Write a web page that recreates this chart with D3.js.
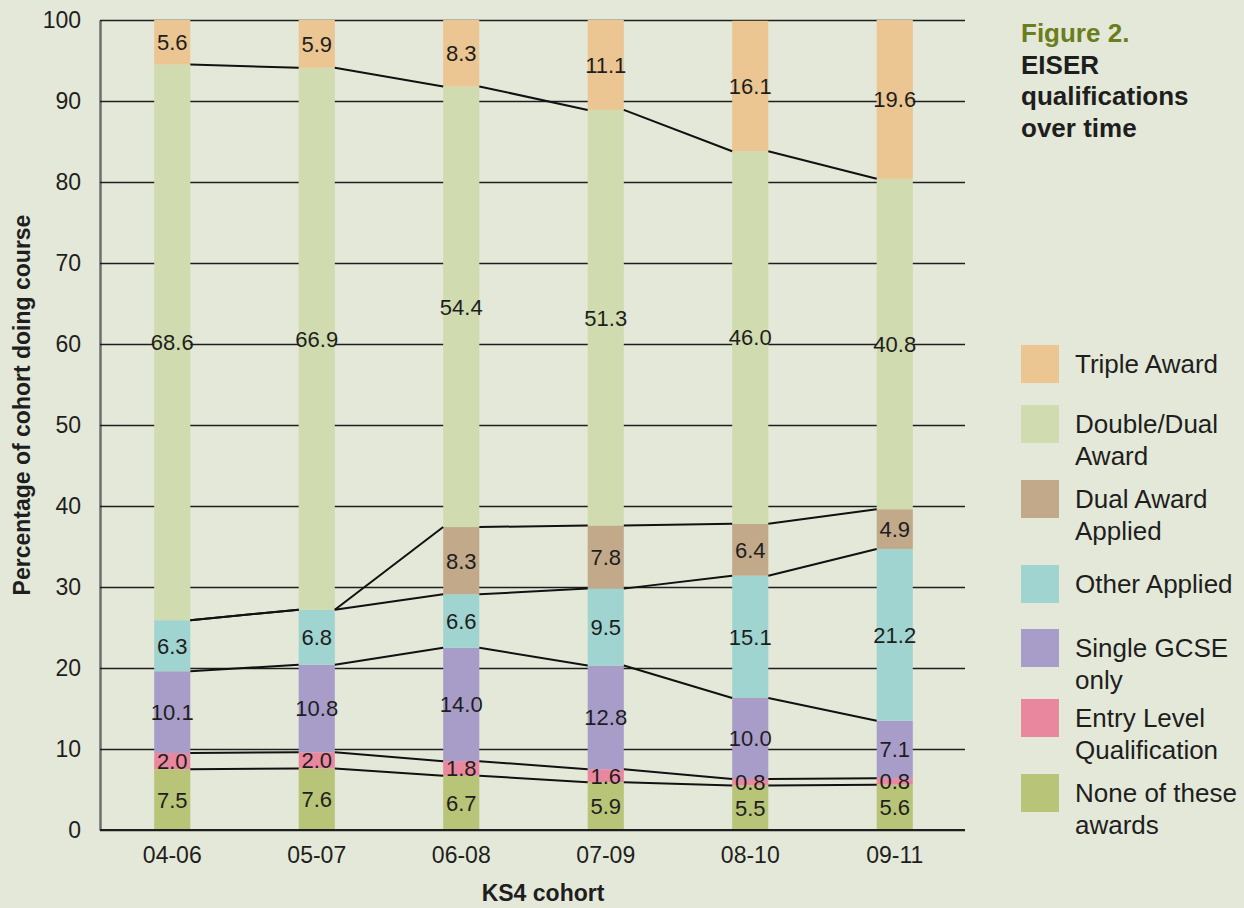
<!DOCTYPE html>
<html>
<head>
    <title>EISER qualifications over time</title>
    <script src="https://d3js.org/d3.v7.min.js"></script>
    <style>
        body { margin: 0; background: #e4e8d8; }
        text { font-family: "Liberation Sans", Arial, sans-serif; fill: #1e1e1e; }
        .grid line { stroke: #1e1e1e; stroke-width: 1.5; }
        .bar-label { font-size: 22px; text-anchor: middle; }
        .legend-label { font-size: 26px; }
        .title { font-size: 26px; font-weight: bold; }
        .axis-title { font-size: 23px; font-weight: bold; }
    </style>
</head>
<body>
<script>
    var w = 1244;
    var h = 908;

    var cohorts = ["04-06", "05-07", "06-08", "07-09", "08-10", "09-11"];

    // series, from bottom of the stack to top
    var seriesNames = ["None of these awards", "Entry Level Qualification", "Single GCSE only",
        "Other Applied", "Dual Award Applied", "Double/Dual Award", "Triple Award"];
    var noneValues = [7.5, 7.6, 6.7, 5.9, 5.5, 5.6];
    var entryValues = [2.0, 2.0, 1.8, 1.6, 0.8, 0.8];
    var singleValues = [10.1, 10.8, 14.0, 12.8, 10.0, 7.1];
    var otherAppliedValues = [6.3, 6.8, 6.6, 9.5, 15.1, 21.2];
    var dualAppliedValues = [0, 0, 8.3, 7.8, 6.4, 4.9];
    var doubleValues = [68.6, 66.9, 54.4, 51.3, 46.0, 40.8];
    var tripleValues = [5.6, 5.9, 8.3, 11.1, 16.1, 19.6];

    var yTicks = [0, 10, 20, 30, 40, 50, 60, 70, 80, 90, 100];

    var seriesValues = [noneValues, entryValues, singleValues, otherAppliedValues,
        dualAppliedValues, doubleValues, tripleValues];
    var colors = ["#b8c477", "#e9879f", "#a89dc9", "#a0d4d0", "#c2a98a", "#d0dbaf", "#ebc592"];

    // legend, top to bottom
    var legendItems = [
        { name: "Triple Award", lines: ["Triple Award"], color: colors[6] },
        { name: "Double/Dual Award", lines: ["Double/Dual", "Award"], color: colors[5] },
        { name: "Dual Award Applied", lines: ["Dual Award", "Applied"], color: colors[4] },
        { name: "Other Applied", lines: ["Other Applied"], color: colors[3] },
        { name: "Single GCSE only", lines: ["Single GCSE", "only"], color: colors[2] },
        { name: "Entry Level Qualification", lines: ["Entry Level", "Qualification"], color: colors[1] },
        { name: "None of these awards", lines: ["None of these", "awards"], color: colors[0] }
    ];
    var legendTops = [345, 405, 480, 565, 629, 699, 774];

    var table = cohorts.map(function (c, i) {
        var row = { cohort: c };
        seriesNames.forEach(function (s, k) { row[s] = seriesValues[k][i]; });
        return row;
    });

    var stacked = d3.stack().keys(seriesNames)(table);

    var plotLeft = 100, plotRight = 967, plotTop = 20, plotBottom = 830, gridEnd = 965;

    var x = d3.scaleBand().domain(cohorts).range([plotLeft, plotRight])
        .paddingInner(0.75).paddingOuter(0.375);
    var y = d3.scaleLinear().domain([0, 100]).range([plotBottom, plotTop]);

    var svg = d3.select("body").append("svg")
        .attr("width", w)
        .attr("height", h);

    svg.append("rect").attr("width", w).attr("height", h).attr("fill", "#e4e8d8");

    // y axis with gridlines
    var yAxis = svg.append("g")
        .attr("class", "grid")
        .attr("transform", "translate(" + plotLeft + ",0)")
        .call(d3.axisLeft(y).tickValues(yTicks).tickSizeInner(-(gridEnd - plotLeft)).tickSizeOuter(0).tickPadding(19));
    yAxis.select(".domain").attr("stroke", "#6e6e6e").attr("stroke-width", 2.5);
    yAxis.selectAll("text").style("font-size", "23px").attr("fill", "#1e1e1e");

    // bars
    var layers = svg.selectAll(".layer")
        .data(stacked)
        .enter()
        .append("g")
        .attr("class", "layer")
        .attr("fill", function (d, k) { return colors[k]; });

    layers.selectAll("rect")
        .data(function (d) { return d; })
        .enter()
        .append("rect")
        .attr("x", function (d) { return x(d.data.cohort); })
        .attr("width", x.bandwidth())
        .attr("y", function (d) { return y(Math.min(d[1], 100)); })
        .attr("height", function (d) { return y(d[0]) - y(Math.min(d[1], 100)); });

    // x axis
    var xAxis = svg.append("g")
        .attr("transform", "translate(0," + plotBottom + ")")
        .call(d3.axisBottom(x).tickSize(0).tickPadding(17));
    xAxis.select(".domain").attr("stroke", "#1e1e1e").attr("stroke-width", 2)
        .attr("d", "M" + plotLeft + ",0H" + gridEnd);
    xAxis.selectAll("text").style("font-size", "23px").attr("fill", "#1e1e1e");

    // connector lines between segment tops
    var bw = x.bandwidth();
    stacked.slice(0, stacked.length - 1).forEach(function (layer) {
        for (var i = 0; i < layer.length - 1; i++) {
            svg.append("line")
                .attr("x1", x(cohorts[i]) + bw)
                .attr("y1", y(layer[i][1]))
                .attr("x2", x(cohorts[i + 1]))
                .attr("y2", y(layer[i + 1][1]))
                .attr("stroke", "#111")
                .attr("stroke-width", 2);
        }
    });

    // value labels
    stacked.forEach(function (layer) {
        layer.forEach(function (d) {
            if (d[1] - d[0] <= 0) return;
            svg.append("text")
                .attr("class", "bar-label")
                .attr("x", x(d.data.cohort) + bw / 2)
                .attr("y", y((d[0] + Math.min(d[1], 100)) / 2))
                .attr("dy", "0.36em")
                .text(d3.format(".1f")(d[1] - d[0]));
        });
    });

    // axis titles
    svg.append("text")
        .attr("class", "axis-title")
        .attr("text-anchor", "middle")
        .attr("transform", "translate(30,405) rotate(-90)")
        .text("Percentage of cohort doing course");

    svg.append("text")
        .attr("class", "axis-title")
        .attr("text-anchor", "middle")
        .attr("x", 543)
        .attr("y", 901)
        .text("KS4 cohort");

    // figure title
    var titleLines = ["EISER", "qualifications", "over time"];
    svg.append("text")
        .attr("class", "title")
        .attr("x", 1021)
        .attr("y", 42)
        .style("fill", "#6b7e1e")
        .text("Figure 2.");
    titleLines.forEach(function (t, i) {
        svg.append("text")
            .attr("class", "title")
            .attr("x", 1021)
            .attr("y", 73.5 + i * 31.5)
            .text(t);
    });

    // legend
    legendItems.forEach(function (item, i) {
        var g = svg.append("g").attr("transform", "translate(1021," + legendTops[i] + ")");
        g.append("rect").attr("width", 38).attr("height", 38).attr("fill", item.color);
        item.lines.forEach(function (t, j) {
            g.append("text")
                .attr("class", "legend-label")
                .attr("x", 54)
                .attr("y", 28 + j * 32)
                .text(t);
        });
    });
</script>
</body>
</html>
